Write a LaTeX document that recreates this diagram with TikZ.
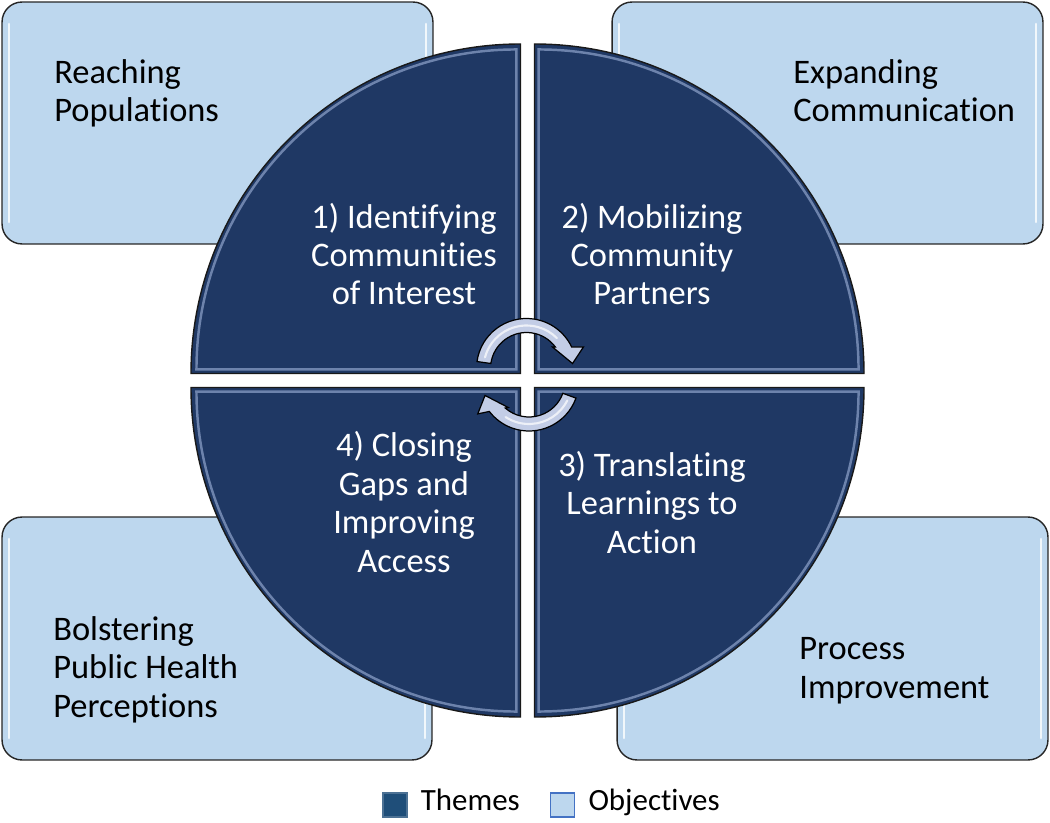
\documentclass[tikz,border=0pt]{standalone}
\usepackage{fontspec}
\setmainfont{Carlito}[Ligatures=NoCommon]
\usetikzlibrary{positioning, calc}
\definecolor{themeblue}{HTML}{1F3864}
\definecolor{objblue}{HTML}{BDD7EE}
\definecolor{bevelblue}{HTML}{8FA3CB}
\definecolor{arrowblue}{HTML}{C3CDE6}
\definecolor{legdark}{HTML}{1F4E79}
\definecolor{legedge}{HTML}{4472C4}
\tikzset{
    every node/.style={font=\fontsize{19.6pt}{21.9pt}\selectfont}, % Calibri-like text
    objbox/.style={draw=black!85, line width=0.8pt, fill=objblue, rounded corners=0.4cm, inner sep=0pt, boxglow},
    boxglow/.style={path picture={
        \draw[white, line width=1.5pt, opacity=0.8, line cap=round]
            ([shift={(7,-22)}]path picture bounding box.north west) -- ([shift={(7,22)}]path picture bounding box.south west)
            ([shift={(-7,-22)}]path picture bounding box.north east) -- ([shift={(-7,22)}]path picture bounding box.south east);
    }},
    objtext/.style={anchor=base west, align=left, inner sep=0pt, text=black},
    themetext/.style={anchor=base, align=center, inner sep=0pt, text=white},
    quadedge/.style={draw=black!90, line width=0.8pt, fill=themeblue},
    bevel/.style={draw=bevelblue, line width=1.4pt, opacity=0.7},
    arrowbody/.style={draw=black, line width=0.7pt, fill=arrowblue},
    arrowshine/.style={draw=white, line width=1.2pt, opacity=0.7, line cap=round},
    legsq/.style={minimum size=0.48cm, inner sep=0pt, line width=0.6pt},
    legtext/.style={inner sep=0pt, font=\fontsize{17.6pt}{21pt}\selectfont, text height=0.84em, text depth=0.2em},
    pics/cyclearrow/.style={code={
        \draw[arrowbody] ({172-#1}:36) -- ({172-#1}:50) arc[start angle=172-#1, end angle=25.5+#1, radius=50]
            -- ({20.7+#1}:60.9) -- ({6.2+#1}:46.3) -- ({39.6+#1}:33.7) -- ({36.7+#1}:36)
            arc[start angle=36.7+#1, end angle=172-#1, radius=36] -- cycle;
        \draw[arrowshine] ({165-#1}:43) arc[start angle=165-#1, end angle=45+#1, radius=43];
    }},
}

\begin{document}
\begin{tikzpicture}[x=0.02cm, y=0.02cm]
    \useasboundingbox (0,0) rectangle (1050,822);

    % objectives
    \node[objbox, minimum width=8.62cm, minimum height=4.84cm] (reach) at (217.5,699) {};
    \node[objbox, minimum width=8.62cm, minimum height=4.84cm] (expand) at (827.5,699) {};
    \node[objbox, minimum width=8.6cm, minimum height=4.86cm] (bolster) at (217,183.5) {};
    \node[objbox, minimum width=8.62cm, minimum height=4.86cm] (process) at (832.5,183.5) {};

    \node[objtext] (reachtxt) at (54,700) {Reaching\\Populations};
    \node[objtext] (expandtxt) at (793,700) {Expanding\\Communication};
    \node[objtext] (bolstertxt) at (53,105) {Bolstering\\Public Health\\Perceptions};
    \node[objtext] (processtxt) at (799,124) {Process\\Improvement};

    % themes
    \foreach \cx/\cy/\a in {520.5/448.5/90, 534.5/448.5/0, 534.5/434.5/270, 520.5/434.5/180}{
        \draw[quadedge] (\cx,\cy) -- ++(\a:329.5) arc[start angle=\a, delta angle=90, radius=329.5] -- cycle;
        \draw[bevel] ($(\cx,\cy)+({\a+45}:5.7)$) -- ++(\a:320) arc[start angle=\a, delta angle=90, radius=320] -- cycle;
    }

    \node[themetext] (ident) at (404,517) {1) Identifying\\Communities\\of Interest};
    \node[themetext] (mobil) at (652,517) {2) Mobilizing\\Community\\Partners};
    \node[themetext] (transl) at (652,269) {3) Translating\\Learnings to\\Action};
    \node[themetext] (closing) at (404,250) {4) Closing\\Gaps and\\Improving\\Access};

    \pic at (526.5,453.5) {cyclearrow=0};
    \pic[rotate=180] at (529,441) {cyclearrow=12};

    % legend
    \node[legsq, fill=legdark, draw=legdark!80!white] (themesq) at (395,17) {};
    \node[legtext, right=0.26cm of themesq] (themelab) {Themes};
    \node[legsq, fill=objblue, draw=legedge, right=0.6cm of themelab] (objsq) {};
    \node[legtext, right=0.26cm of objsq] (objlab) {Objectives};
\end{tikzpicture}
\end{document}
